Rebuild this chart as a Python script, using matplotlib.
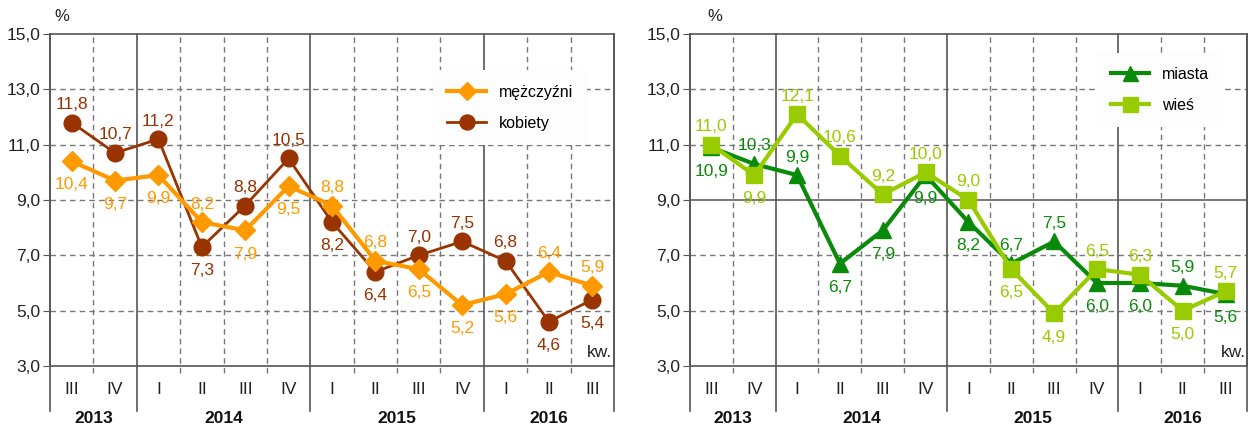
import numpy as np
import matplotlib
matplotlib.use('Agg')
import matplotlib.pyplot as plt
import matplotlib.transforms as mtransforms

plt.rcParams['font.family'] = ['Liberation Sans', 'DejaVu Sans']

# data
quarters = ['III', 'IV', 'I', 'II', 'III', 'IV', 'I', 'II', 'III', 'IV', 'I', 'II', 'III']
years = ['2013', '2014', '2015', '2016']
year_centers = [0.5, 3.5, 7.5, 11.0]

men = [10.4, 9.7, 9.9, 8.2, 7.9, 9.5, 8.8, 6.8, 6.5, 5.2, 5.6, 6.4, 5.9]
women = [11.8, 10.7, 11.2, 7.3, 8.8, 10.5, 8.2, 6.4, 7.0, 7.5, 6.8, 4.6, 5.4]
city = [10.9, 10.3, 9.9, 6.7, 7.9, 9.9, 8.2, 6.7, 7.5, 6.0, 6.0, 5.9, 5.6]
rural = [11.0, 9.9, 12.1, 10.6, 9.2, 10.0, 9.0, 6.5, 4.9, 6.5, 6.3, 5.0, 5.7]

# label side: 1 above, -1 below
men_pos = [-1, -1, -1, 1, -1, -1, 1, 1, -1, -1, -1, 1, 1]
women_pos = [1, 1, 1, -1, 1, 1, -1, -1, 1, 1, 1, -1, -1]
city_pos = [-1, 1, 1, -1, -1, -1, -1, 1, 1, -1, -1, 1, -1]
rural_pos = [1, -1, 1, 1, 1, 1, 1, -1, -1, 1, 1, -1, 1]

c_men = '#ff9900'
c_women = '#993300'
c_city = '#0a8a0a'
c_rural = '#99cc00'
grid_c = '#777777'
solid_c = '#555555'

fig = plt.figure(figsize=(12.49, 4.28), dpi=100)
ax1 = fig.add_axes([0.040, 0.1449, 0.4516, 0.7757])
ax2 = fig.add_axes([0.5524, 0.1449, 0.4460, 0.7757])

x = np.arange(len(quarters))


def fmt(v):
    return ('%.1f' % v).replace('.', ',')


def setup(ax, solid9=False):
    ax.set_xlim(-0.5, 12.5)
    ax.set_ylim(3, 15)
    yt = [3, 5, 7, 9, 11, 13, 15]
    ax.set_yticks(yt)
    ax.set_yticklabels([fmt(v) for v in yt], fontsize=12.5, color='#222222')
    ax.set_xticks([])
    ax.tick_params(axis='y', length=5, color=solid_c, pad=2)
    for s in ['left', 'right', 'top', 'bottom']:
        ax.spines[s].set_color(solid_c)
        ax.spines[s].set_linewidth(1.2)
    # horizontal grid
    for v in [5, 7, 9, 11, 13]:
        if solid9 and v == 9:
            ax.axhline(v, color=solid_c, lw=1.1, zorder=1)
        else:
            ax.axhline(v, color=grid_c, lw=1.0, ls=(0, (4, 3)), zorder=1)
    trans = mtransforms.blended_transform_factory(ax.transData, ax.transAxes)
    for b in [0.5, 2.5, 3.5, 4.5, 6.5, 7.5, 8.5, 10.5, 11.5]:
        ax.plot([b, b], [-0.02, 1], color=grid_c, lw=1.0, ls=(0, (4, 3)),
                transform=trans, clip_on=False, zorder=1)
    for b in [-0.5, 1.5, 5.5, 9.5, 12.5]:
        ax.plot([b, b], [-0.136, 1], color=solid_c, lw=1.2,
                transform=trans, clip_on=False, zorder=1)
    for i, q in enumerate(quarters):
        ax.text(i, -0.072, q, transform=trans, ha='center', va='center',
                fontsize=12.5, color='#222222')
    for yc, yr in zip(year_centers, years):
        ax.text(yc, -0.158, yr, transform=trans, ha='center', va='center',
                fontsize=12.5, fontweight='bold', color='#111111')
    ax.text(0.975, 0.04, 'kw.', transform=ax.transAxes, ha='center', va='center',
            fontsize=12.5, color='#222222')


def labels(ax, vals, pos, color):
    for i, (v, p) in enumerate(zip(vals, pos)):
        ax.annotate(fmt(v), (x[i], v), xytext=(0, 13 if p > 0 else -17),
                    textcoords='offset points', ha='center', va='center',
                    fontsize=12.5, color=color, zorder=6)


# left panel
setup(ax1)
l_w, = ax1.plot(x, women, color=c_women, lw=2.0, marker='o', ms=12, zorder=3)
l_m, = ax1.plot(x, men, color=c_men, lw=3.0, marker='D', ms=10, zorder=4)
labels(ax1, men, men_pos, c_men)
labels(ax1, women, women_pos, c_women)
ax1.text(0.021, 1.03, '%', transform=ax1.transAxes, ha='center', va='bottom',
         fontsize=12, color='#222222')
leg1 = ax1.legend([l_m, l_w], ['mężczyźni', 'kobiety'], loc='upper left',
                  bbox_to_anchor=(0.665, 0.915), frameon=True, fancybox=True,
                  facecolor='#fdfdfd', edgecolor='none', framealpha=1,
                  fontsize=11.5, handlelength=2.4, labelspacing=1.0,
                  borderpad=0.9, markerscale=0.9)
leg1.set_zorder(5)

# right panel
setup(ax2, solid9=True)
l_c, = ax2.plot(x, city, color=c_city, lw=3.0, marker='^', ms=12, zorder=3)
l_r, = ax2.plot(x, rural, color=c_rural, lw=3.0, marker='s', ms=12, zorder=4)
labels(ax2, city, city_pos, c_city)
labels(ax2, rural, rural_pos, c_rural)
ax2.text(0.045, 1.03, '%', transform=ax2.transAxes, ha='center', va='bottom',
         fontsize=12, color='#222222')
leg2 = ax2.legend([l_c, l_r], ['miasta', 'wieś'], loc='upper left',
                  bbox_to_anchor=(0.715, 0.968), frameon=True, fancybox=True,
                  facecolor='#fdfdfd', edgecolor='none', framealpha=1,
                  fontsize=11.5, handlelength=2.4, labelspacing=1.0,
                  borderpad=0.9, markerscale=0.9)
leg2.set_zorder(5)

fig.savefig('out.png', dpi=100, facecolor='white')
